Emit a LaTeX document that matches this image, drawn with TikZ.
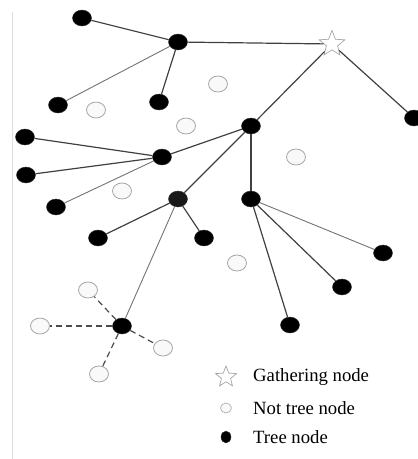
\documentclass[tikz,border=0pt]{standalone}
\usepackage{fontspec}
\setmainfont{Liberation Serif}
\usetikzlibrary{shapes.geometric,positioning}

\begin{document}
\begin{tikzpicture}[
  x=1pt,y=-1pt,
  font=\fontsize{18.7}{20}\selectfont,
  tn/.style={ellipse,fill=black,draw=black!80,minimum width=19pt,minimum height=16pt,inner sep=0pt},
  nt/.style={ellipse,fill=gray!5,draw=gray!70,minimum width=19pt,minimum height=16pt,inner sep=0pt,line width=0.8pt},
  gat/.style={star,star points=5,star point ratio=2.3,draw=gray!70,fill=white,minimum size=27pt,inner sep=0pt,line width=0.7pt},
  e/.style={draw=black!75,line width=1.2pt},
  el/.style={draw=black!55,line width=0.9pt},
  nl/.style={draw=black!70,line width=1.2pt,dash pattern=on 6pt off 4pt}
]
\useasboundingbox (0,0) rectangle (418,459);
\draw[gray!25,line width=1pt] (12,12) -- (12,459);

% positions of the tree nodes
\coordinate (pa) at (82,18);
\coordinate (pb) at (178,42);
\coordinate (pg) at (332,44);
\coordinate (pc) at (58,105);
\coordinate (pd) at (159,102);
\coordinate (pe) at (414,118);
\coordinate (pf) at (251,126);
\coordinate (ph) at (162,157);
\coordinate (pi) at (25,137);
\coordinate (pj) at (26,175);
\coordinate (pk) at (56,207);
\coordinate (pl) at (178,199);
\coordinate (pm) at (251,199);
\coordinate (pn) at (98,238);
\coordinate (po) at (204,238);
\coordinate (pp) at (383,253);
\coordinate (pq) at (342,287);
\coordinate (pr) at (290,325);
\coordinate (ps) at (122,326);

% tree nodes
\node[tn] (a) at (pa) {};
\node[tn] (b) at (pb) {};
\node[tn] (c) at (pc) {};
\node[tn] (d) at (pd) {};
\node[tn] (e) at (pe) {};
\node[tn] (f) at (pf) {};
\node[tn] (h) at (ph) {};
\node[tn] (i) at (pi) {};
\node[tn] (j) at (pj) {};
\node[tn] (k) at (pk) {};
\node[tn,fill=black!90] (l) at (pl) {};
\node[tn] (m) at (pm) {};
\node[tn] (n) at (pn) {};
\node[tn] (o) at (po) {};
\node[tn] (p) at (pp) {};
\node[tn] (q) at (pq) {};
\node[tn] (r) at (pr) {};
\node[tn] (s) at (ps) {};
\node[gat] (g) at (pg) {};

% not tree nodes
\node[nt] (w1) at (218,84) {};
\node[nt] (w2) at (96,110) {};
\node[nt] (w3) at (186,126) {};
\node[nt] (w4) at (296,157) {};
\node[nt] (w5) at (122,191) {};
\node[nt] (w6) at (237,263) {};
\node[nt] (w7) at (88,290) {};
\node[nt] (w8) at (40,326) {};
\node[nt] (w9) at (163,348) {};
\node[nt] (w10) at (99,374) {};

% links
\draw[e] (a) -- (b);
\draw[e] (b) -- (g);
\draw[el] (b) -- (c);
\draw[e] (b) -- (d);
\draw[e] (g) -- (f);
\draw[e] (g) -- (e);
\draw[e] (f) -- (h);
\draw[e] (h) -- (i);
\draw[e] (h) -- (j);
\draw[el] (h) -- (k);
\draw[e] (f) -- (l);
\draw[e] (f) -- (m);
\draw[e] (l) -- (n);
\draw[e] (l) -- (o);
\draw[el] (l) -- (s);
\draw[el] (m) -- (p);
\draw[e] (m) -- (q);
\draw[e] (m) -- (r);
\foreach \w in {w7,w8,w9,w10} \draw[nl] (s) -- (\w);

% legend
\node[gat,minimum size=22pt] (lg) at (226,377) {};
\node[nt,minimum width=11pt,minimum height=10pt,line width=0.6pt] (ln) at (226,408) {};
\node[tn,minimum width=10pt,minimum height=12pt] (lt) at (226,437) {};
\node[anchor=west,inner sep=0pt] (tg) at (253,377) {Gathering node};
\node[anchor=west,inner sep=0pt] (tn1) at (253,408) {Not tree node};
\node[anchor=west,inner sep=0pt] (tt) at (253,437) {Tree node};
\end{tikzpicture}
\end{document}
